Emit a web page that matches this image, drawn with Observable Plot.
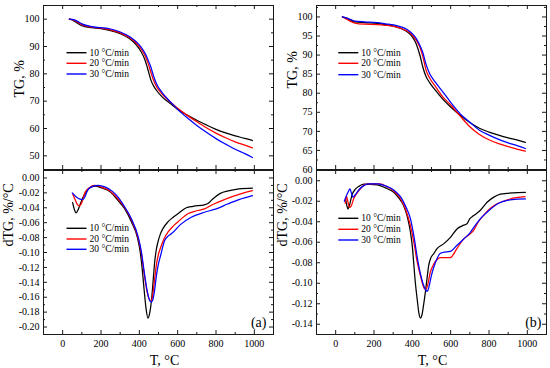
<!DOCTYPE html>
<html><head><meta charset="utf-8">
<script src="https://cdn.jsdelivr.net/npm/d3@7"></script>
<script src="https://cdn.jsdelivr.net/npm/@observablehq/plot@0.6"></script>
<style>
html,body{margin:0;padding:0;background:#fff;}
#chart{position:relative;width:550px;height:368px;overflow:hidden;background:#fff;}
#chart svg{position:absolute;}
</style></head><body><div id="chart"></div>
<script>
// ---- series / labels ----
const seriesNames = ["10 °C/min", "20 °C/min", "30 °C/min"];
const seriesColors = ["#000000", "#ff0000", "#0000ff"];
const tempTicks = [0, 200, 400, 600, 800, 1000];
const tempMinor = [100, 300, 500, 700, 900];
const tgATicks = [50, 60, 70, 80, 90, 100];
const tgAMinor = [55, 65, 75, 85, 95];
const tgBTicks = [60, 65, 70, 75, 80, 85, 90, 95, 100];
const tgBMinor = [62.5, 67.5, 72.5, 77.5, 82.5, 87.5, 92.5, 97.5, 102.5];
const dtgATicks = [0, -0.02, -0.04, -0.06, -0.08, -0.10, -0.12, -0.14, -0.16, -0.18, -0.20];
const dtgAMinor = [-0.01, -0.03, -0.05, -0.07, -0.09, -0.11, -0.13, -0.15, -0.17, -0.19];
const dtgBTicks = [0, -0.02, -0.04, -0.06, -0.08, -0.10, -0.12, -0.14];
const dtgBMinor = [-0.01, -0.03, -0.05, -0.07, -0.09, -0.11, -0.13];

// ---- (a) TG ----
const tgA_T = [35,50,75,100,150,200,250,300,350,385,410,430,445,460,475,490,520,560,600,650,700,750,800,850,900,950,990];
const tgA_10 = [100,99.7,98.6,97.6,96.9,96.5,95.8,94.7,92.8,90.5,88.0,85.0,81.5,77.8,75.5,73.9,71.5,69.2,67.0,64.9,63.0,61.3,59.7,58.4,57.3,56.4,55.6];
const tgA_20 = [100,99.8,99.0,98.0,97.1,96.7,96.1,95.0,93.2,91.2,89.0,86.6,84.0,80.6,77.5,75.3,72.5,69.8,67.4,64.8,62.5,60.3,58.3,56.6,55.1,53.9,52.9];
const tgA_30 = [100,99.9,99.3,98.3,97.3,96.9,96.4,95.3,93.6,91.7,89.7,87.5,85.2,82.5,79.0,76.3,73.0,69.9,67.0,63.9,61.1,58.6,56.3,54.3,52.4,50.8,49.4];

// ---- (a) dTG ----
const dtgA_T10 = [52,62,70,80,95,110,130,150,168,200,250,285,324,359,390,405,415,425,435,445,455,463,472,480,488,497,510,523,549,575,601,645,680,740,760,780,820,870,920,990];
const dtgA_10 = [-0.033,-0.043,-0.047,-0.043,-0.033,-0.024,-0.016,-0.012,-0.011,-0.013,-0.019,-0.029,-0.0415,-0.059,-0.080,-0.100,-0.122,-0.150,-0.175,-0.188,-0.180,-0.165,-0.138,-0.113,-0.097,-0.086,-0.075,-0.068,-0.059,-0.053,-0.048,-0.040,-0.038,-0.036,-0.034,-0.029,-0.021,-0.017,-0.0145,-0.0135];
const dtgA_T20 = [52,65,78,88,100,116,140,165,200,250,285,324,359,393,410,425,440,452,460,468,480,490,500,515,530,549,575,601,653,700,740,780,853,920,990];
const dtgA_20 = [-0.021,-0.029,-0.036,-0.0375,-0.033,-0.020,-0.013,-0.010,-0.012,-0.018,-0.027,-0.040,-0.056,-0.080,-0.100,-0.128,-0.152,-0.163,-0.1656,-0.160,-0.135,-0.115,-0.102,-0.0906,-0.081,-0.0728,-0.065,-0.059,-0.048,-0.044,-0.0415,-0.036,-0.028,-0.022,-0.017];
const dtgA_T30 = [50,73,90,105,118,133,160,185,220,260,290,324,359,393,410,425,440,452,463,472,480,489,500,511,532,550,567,619,671,740,801,860,920,990];
const dtgA_30 = [-0.020,-0.026,-0.0285,-0.029,-0.024,-0.0152,-0.011,-0.0099,-0.012,-0.018,-0.026,-0.039,-0.055,-0.078,-0.098,-0.125,-0.150,-0.163,-0.1665,-0.162,-0.150,-0.131,-0.115,-0.104,-0.084,-0.078,-0.075,-0.0616,-0.0527,-0.046,-0.0415,-0.035,-0.029,-0.0237];

// ---- (b) TG ----
const tgB_T = [35,50,75,100,150,217,260,303,340,373,400,420,440,455,472,490,520,560,600,650,700,750,800,850,900,950,990];
const tgB_10 = [100,99.8,99.2,98.7,98.5,98.3,98.0,97.6,97.0,96.1,94.8,93.0,89.9,86.8,84.3,82.8,80.8,78.4,76.4,74.2,72.3,70.8,69.8,69.0,68.3,67.7,67.1];
const tgB_20 = [100,99.6,98.9,98.4,98.1,98.0,97.8,97.5,97.0,96.3,95.2,93.9,92.0,89.6,86.0,84.0,81.8,79.0,76.9,74.0,71.2,69.2,67.8,66.8,66.0,65.3,64.8];
const tgB_30 = [100,99.8,99.4,98.9,98.7,98.5,98.2,97.9,97.4,96.7,95.6,94.4,92.5,90.6,87.5,85.2,82.9,80.3,77.6,74.6,72.4,70.3,69.0,67.9,67.0,66.2,65.5];

// ---- (b) dTG ----
const dtgB_T10 = [52,58,64,72,85,104,125,147,217,260,303,330,355,375,390,400,407,416,425,435,442,450,458,468,477,485,497,511,530,563,600,633,660,685,700,720,754,790,823,860,893,950,990];
const dtgB_10 = [-0.018,-0.024,-0.0276,-0.024,-0.014,-0.008,-0.005,-0.0032,-0.004,-0.007,-0.0113,-0.017,-0.0243,-0.036,-0.050,-0.064,-0.080,-0.100,-0.115,-0.130,-0.134,-0.131,-0.122,-0.1086,-0.095,-0.083,-0.075,-0.0713,-0.066,-0.0616,-0.055,-0.047,-0.044,-0.042,-0.037,-0.034,-0.029,-0.021,-0.0162,-0.013,-0.0123,-0.0115,-0.0113];
const dtgB_T20 = [50,56,62,72,80,95,121,150,170,230,270,303,340,365,390,410,425,440,451,462,470,478,494,510,520,546,598,633,667,700,719,745,771,800,841,910,988];
const dtgB_20 = [-0.022,-0.015,-0.019,-0.026,-0.025,-0.017,-0.0097,-0.004,-0.003,-0.003,-0.006,-0.010,-0.018,-0.028,-0.0437,-0.062,-0.079,-0.091,-0.099,-0.105,-0.106,-0.103,-0.089,-0.082,-0.079,-0.075,-0.075,-0.066,-0.057,-0.052,-0.0486,-0.040,-0.034,-0.028,-0.0227,-0.0178,-0.0156];
const dtgB_T30 = [45,55,65,75,82,90,105,125,145,170,220,260,303,340,365,390,410,425,440,455,470,478,486,500,520,545,560,598,633,667,700,730,760,800,850,900,950,990];
const dtgB_30 = [-0.020,-0.015,-0.011,-0.008,-0.012,-0.016,-0.013,-0.008,-0.005,-0.003,-0.003,-0.005,-0.009,-0.016,-0.025,-0.037,-0.056,-0.074,-0.089,-0.100,-0.1065,-0.108,-0.104,-0.092,-0.080,-0.071,-0.070,-0.069,-0.063,-0.057,-0.051,-0.043,-0.036,-0.029,-0.022,-0.019,-0.018,-0.0178];

// ---- build tables ----
const rows = (T, V, s) => T.map((t, i) => ({T: t, v: V[i], s}));
const tgAData = [...rows(tgA_T, tgA_10, seriesNames[0]), ...rows(tgA_T, tgA_20, seriesNames[1]), ...rows(tgA_T, tgA_30, seriesNames[2])];
const dtgAData = [...rows(dtgA_T10, dtgA_10, seriesNames[0]), ...rows(dtgA_T20, dtgA_20, seriesNames[1]), ...rows(dtgA_T30, dtgA_30, seriesNames[2])];
const tgBData = [...rows(tgB_T, tgB_10, seriesNames[0]), ...rows(tgB_T, tgB_20, seriesNames[1]), ...rows(tgB_T, tgB_30, seriesNames[2])];
const dtgBData = [...rows(dtgB_T10, dtgB_10, seriesNames[0]), ...rows(dtgB_T20, dtgB_20, seriesNames[1]), ...rows(dtgB_T30, dtgB_30, seriesNames[2])];

const FONT = "'Liberation Serif', 'Times New Roman', serif";
const INK = "#1a1a1a";
const fmtInt = d3.format("d");
const fmt2 = d => (Math.abs(d) < 1e-9 ? 0 : d).toFixed(2);

function panel(c) {
  const fw = c.width - c.ml - c.mr, fh = c.height - c.mt - c.mb;
  const marks = [
    Plot.line(c.data, {x: "T", y: "v", stroke: "s", z: "s", strokeWidth: 1.25, curve: "monotone-x"}),
    Plot.tickX(tempTicks, {insetTop: fh - 4, stroke: INK}),
    Plot.tickX(tempTicks, {insetBottom: fh - 4, stroke: INK}),
    Plot.tickX(tempMinor, {insetTop: fh - 2, stroke: INK}),
    Plot.tickX(tempMinor, {insetBottom: fh - 2, stroke: INK}),
    Plot.tickY(c.yMajor, {insetRight: fw - 4, stroke: INK}),
    Plot.tickY(c.yMajor, {insetLeft: fw - 4, stroke: INK}),
    Plot.tickY(c.yMinor, {insetRight: fw - 2, stroke: INK}),
    Plot.tickY(c.yMinor, {insetLeft: fw - 2, stroke: INK}),
    Plot.frame({stroke: INK, strokeWidth: 1}),
    Plot.axisY(c.yMajor, {tickSize: 0, tickPadding: 4, tickFormat: c.yFmt, fontSize: 10, label: null}),
    Plot.text([c.ylabel], {text: d => d, frameAnchor: "left", rotate: -90, dx: c.ylDx, dy: c.ylDy, fontSize: 14})
  ];
  if (c.bottom) {
    marks.push(Plot.axisX(tempTicks, {tickSize: 0, tickPadding: 5, tickFormat: fmtInt, fontSize: 10, label: null}));
    marks.push(Plot.text(["T, °C"], {text: d => d, frameAnchor: "bottom", lineAnchor: "middle", dx: c.xtDx, dy: 26, fontSize: 14}));
    marks.push(Plot.text([c.letter], {text: d => d, frameAnchor: "bottom-right", textAnchor: "end", lineAnchor: "middle", dx: c.letterDx, dy: -12, fontSize: 14}));
  }
  const svg = Plot.plot({
    width: c.width, height: c.height,
    marginLeft: c.ml, marginRight: c.mr, marginTop: c.mt, marginBottom: c.mb,
    style: {background: "transparent", overflow: "visible", fontFamily: FONT, fontSize: "10px", color: "#000"},
    x: {domain: [-100, 1100], axis: null, label: null},
    y: {domain: c.yDomain, axis: null, label: null},
    color: {domain: seriesNames, range: seriesColors},
    marks
  });
  svg.style.left = c.left + "px";
  svg.style.top = c.top + "px";
  // legend (line samples + labels)
  const g = d3.select(svg).append("g").attr("font-family", FONT).attr("font-size", 9.5).attr("text-anchor", "start");
  seriesNames.forEach((name, i) => {
    const y = c.legY[i];
    g.append("line").attr("x1", c.legX).attr("x2", c.legX + 20).attr("y1", y).attr("y2", y)
      .attr("stroke", seriesColors[i]).attr("stroke-width", 1.4);
    g.append("text").attr("x", c.legX + 23).attr("y", y).attr("dy", "0.32em").attr("fill", "#000")
      .attr("text-anchor", "start").text(name);
  });
  document.getElementById("chart").appendChild(svg);
}

panel({left: 0, top: 0, width: 275, height: 170, ml: 43, mr: 2, mt: 5, mb: 1,
  yDomain: [45, 105], yMajor: tgATicks, yMinor: tgAMinor, yFmt: fmtInt, data: tgAData,
  ylabel: "TG, %", ylDx: -24, ylDy: 10, legX: 66.5, legY: [52.7, 63.3, 74]});
panel({left: 0, top: 160, width: 275, height: 208, ml: 43, mr: 2, mt: 10, mb: 34,
  yDomain: [-0.21, 0.01], yMajor: dtgATicks, yMinor: dtgAMinor, yFmt: fmt2, data: dtgAData,
  ylabel: "dTG, %/°C", ylDx: -35, ylDy: -6, legX: 66.5, legY: [68.3, 79, 89.3],
  bottom: true, xtDx: 6, letter: "(a)", letterDx: -7});
panel({left: 275, top: 0, width: 275, height: 170, ml: 41, mr: 4, mt: 5, mb: 1,
  yDomain: [60, 103], yMajor: tgBTicks, yMinor: tgBMinor, yFmt: fmtInt, data: tgBData,
  ylabel: "TG, %", ylDx: -24, ylDy: 1, legX: 63.3, legY: [52.7, 63.3, 74.7]});
panel({left: 275, top: 160, width: 275, height: 208, ml: 41, mr: 4, mt: 10, mb: 34,
  yDomain: [-0.15, 0.01], yMajor: dtgBTicks, yMinor: dtgBMinor, yFmt: fmt2, data: dtgBData,
  ylabel: "dTG, %/°C", ylDx: -34, ylDy: -6, legX: 63.3, legY: [58.3, 69.3, 80],
  bottom: true, xtDx: 1, letter: "(b)", letterDx: -5});
</script></body></html>
